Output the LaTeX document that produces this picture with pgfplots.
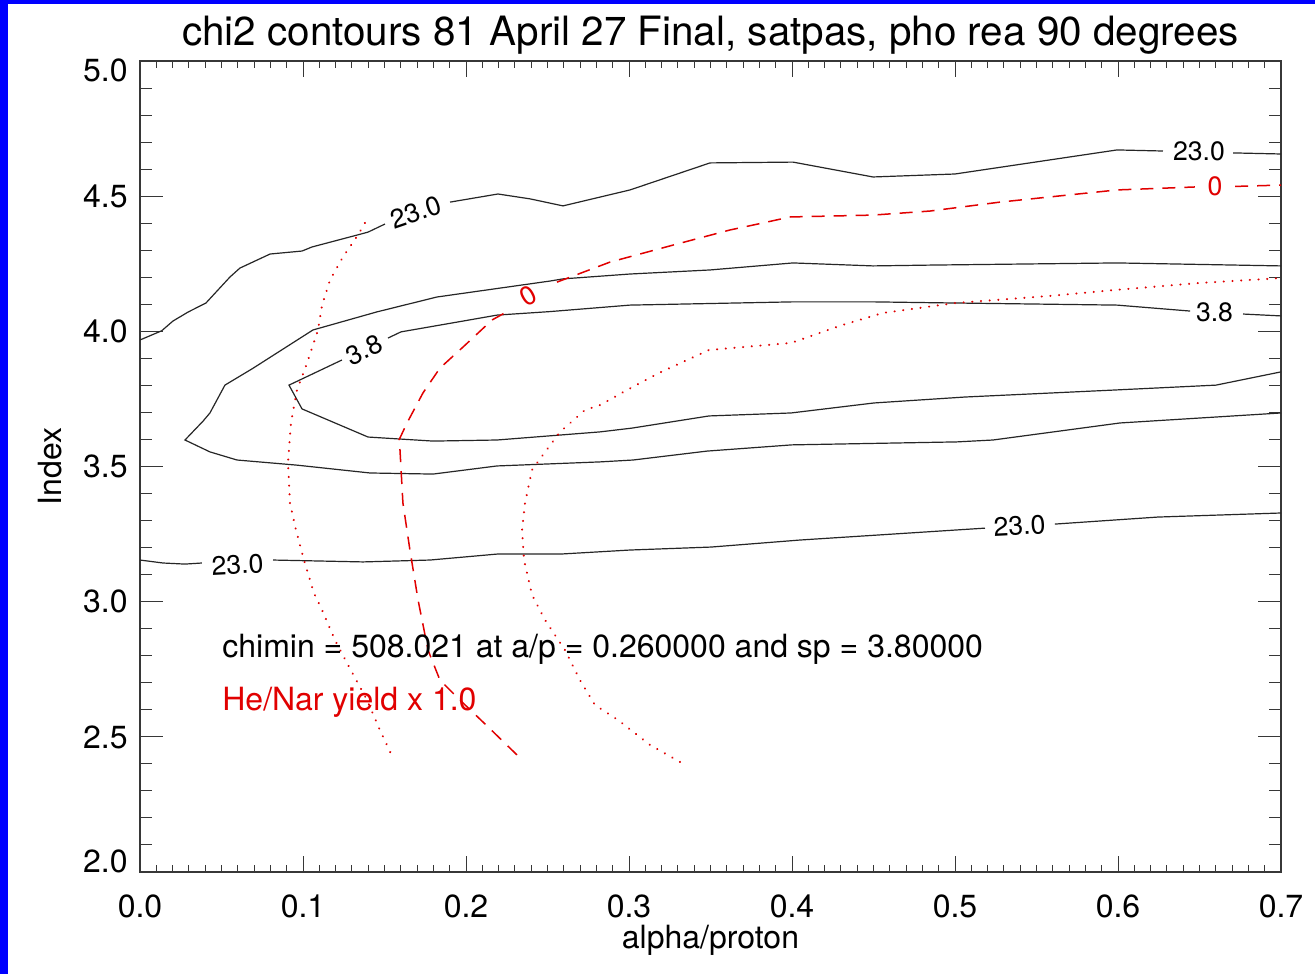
\documentclass[border=0pt]{standalone}
\usepackage{pgfplots}
\pgfplotsset{compat=1.18}
\usepackage{fontspec}
\setmainfont{TeX Gyre Heros}
\definecolor{idlred}{RGB}{225,0,0}
\definecolor{idlblue}{RGB}{0,0,255}
\definecolor{axgray}{RGB}{55,55,55}
\tikzset{clab/.style={font=\fontsize{13.3}{16}\selectfont, inner sep=0pt}}
\newcommand{\ylab}[1]{\raisebox{#1}[0pt][0pt]{\pgfmathprintnumber[fixed,fixed zerofill,precision=1]{\tick}}}
\begin{document}
\begin{tikzpicture}[x=1pt,y=1pt]
\fill[idlblue] (0,0) rectangle (657.5,487);
\fill[white] (4,0) rectangle (657.5,485);
\pgfplotsset{
  common/.style={
    scale only axis, width=570.5pt, height=405.5pt,
    at={(70pt,51pt)}, anchor=south west,
    xmin=0, xmax=0.7, ymin=2, ymax=5,
    clip mode=individual,
    axis line style={draw=axgray, line width=0.75pt},
    every tick/.style={draw=axgray, line width=0.5pt},
    tick label style={font=\fontsize{16}{19}\selectfont},
    /pgf/number format/assume math mode=true,
    /pgf/number format/fixed, /pgf/number format/fixed zerofill,
    /pgf/number format/precision=1,
    tick align=inside,
  },
  cont/.style={draw=black!85, line width=0.6pt, mark=none},
  rdash/.style={draw=idlred, line width=0.75pt, mark=none, dash pattern=on 6.5pt off 4.5pt},
  rdot/.style={draw=idlred, line width=1.1pt, mark=none, line cap=round, dash pattern=on 0.05pt off 4.3pt},
}
% axis with y ticks only
\begin{axis}[common,
  xtick=\empty, minor x tick num=0,
  ytick={2,2.5,3,3.5,4,4.5,5}, minor y tick num=4,
  major tick length=11.5pt, minor tick length=6pt,
  yticklabel style={inner sep=0pt, xshift=-6pt},
  yticklabel={\ifcase\ticknum \ylab{0pt}\or\ylab{-5.6pt}\or\ylab{-5.6pt}\or\ylab{-5.6pt}\or\ylab{-5.6pt}\or\ylab{-5.6pt}\else\ylab{-10.5pt}\fi},
]
\end{axis}
% main axis with x ticks and data
\begin{axis}[common,
  ytick=\empty, minor y tick num=0,
  xtick={0,0.1,0.2,0.3,0.4,0.5,0.6,0.7}, minor x tick num=9,
  major tick length=8pt, minor tick length=3.5pt,
  xticklabel style={inner sep=0pt, yshift=-11pt},
]
% outer 23.0 contour, top branch
\addplot[cont] coordinates {(0.0,3.968) (0.0133,4.002) (0.0202,4.038) (0.0294,4.071) (0.0405,4.105) (0.0552,4.201) (0.0613,4.234) (0.0798,4.286) (0.0994,4.297) (0.1055,4.312) (0.1331,4.356) (0.1399,4.367) (0.1503,4.397)};
\addplot[cont] coordinates {(0.1902,4.478) (0.2196,4.508) (0.2393,4.490) (0.2595,4.464) (0.3006,4.523) (0.3497,4.623) (0.4006,4.626) (0.4497,4.571) (0.5,4.582) (0.5994,4.671) (0.6276,4.667)};
\addplot[cont] coordinates {(0.6706,4.660) (0.7,4.656)};
% outer 23.0 contour, bottom branch
\addplot[cont] coordinates {(0,3.154) (0.0141,3.143) (0.0276,3.139) (0.0380,3.143)};
\addplot[cont] coordinates {(0.0816,3.154) (0.1368,3.147) (0.1779,3.154) (0.2190,3.176) (0.2577,3.176) (0.3006,3.191) (0.3503,3.202) (0.4049,3.228) (0.4540,3.247) (0.5184,3.272)};
\addplot[cont] coordinates {(0.5613,3.287) (0.6245,3.313) (0.7,3.328)};
% middle (unlabelled) contour
\addplot[cont] coordinates {(0.7,4.242) (0.5994,4.253) (0.4847,4.245) (0.4497,4.242) (0.4006,4.253) (0.3497,4.227) (0.3006,4.212) (0.2595,4.194) (0.2515,4.186) (0.1822,4.127) (0.1454,4.072) (0.1061,4.005) (0.0687,3.861) (0.0521,3.801) (0.0429,3.698) (0.0387,3.668) (0.0276,3.598) (0.0429,3.554) (0.0595,3.524) (0.0963,3.505) (0.1411,3.476) (0.1798,3.472) (0.2190,3.502) (0.2822,3.517) (0.3025,3.524) (0.3479,3.557) (0.4,3.580) (0.5012,3.591) (0.5233,3.598) (0.6012,3.661) (0.7,3.698)};
% 3.8 contour
\addplot[cont] coordinates {(0.7,4.057) (0.6767,4.064)};
\addplot[cont] coordinates {(0.6442,4.075) (0.5994,4.097) (0.4847,4.106) (0.4497,4.109) (0.4006,4.109) (0.3006,4.097) (0.2515,4.073) (0.2190,4.060) (0.1982,4.038) (0.1601,3.998) (0.1521,3.975)};
\addplot[cont] coordinates {(0.1239,3.894) (0.0914,3.801) (0.0994,3.713) (0.1399,3.609) (0.1798,3.594) (0.2190,3.598) (0.2822,3.628) (0.3018,3.642) (0.3491,3.687) (0.3994,3.698) (0.4503,3.735) (0.5061,3.757) (0.5982,3.783) (0.6601,3.801) (0.7,3.850)};
% red dashed 0 contour
\addplot[rdash] coordinates {(0.2313,2.433) (0.2123,2.544) (0.1963,2.636) (0.1840,2.710) (0.1767,2.821) (0.1706,3.006) (0.1656,3.191) (0.1613,3.365) (0.1595,3.561) (0.1589,3.598) (0.1638,3.661) (0.1736,3.772) (0.1840,3.864) (0.1982,3.942) (0.2160,4.042) (0.2270,4.079)};
\addplot[rdash] coordinates {(0.2558,4.182) (0.2883,4.256) (0.3270,4.319) (0.3620,4.375) (0.3822,4.401) (0.3988,4.423) (0.4497,4.430) (0.4847,4.445) (0.5276,4.478) (0.5994,4.523) (0.6472,4.534)};
\addplot[rdash] coordinates {(0.6718,4.536) (0.7,4.541)};
% red dotted contours
\addplot[rdot] coordinates {(0.1380,4.401) (0.1337,4.356) (0.1245,4.275) (0.1166,4.190) (0.1117,4.097) (0.1092,4.005) (0.1025,3.883) (0.0963,3.783) (0.0926,3.661) (0.0908,3.513) (0.0920,3.365) (0.0957,3.265) (0.1006,3.154) (0.1067,3.032) (0.1117,2.969) (0.1196,2.858) (0.1276,2.766) (0.1393,2.636) (0.1472,2.525) (0.1552,2.422)};
\addplot[rdot] coordinates {(0.3313,2.407) (0.3129,2.470) (0.2933,2.562) (0.2791,2.618) (0.2699,2.710) (0.2607,2.821) (0.2485,2.932) (0.2405,3.025) (0.2356,3.154) (0.2344,3.265) (0.2362,3.365) (0.2405,3.487) (0.2472,3.543) (0.2577,3.628) (0.2730,3.709) (0.2822,3.727) (0.2988,3.783) (0.3184,3.846) (0.3491,3.931) (0.3994,3.957) (0.4307,4.023) (0.4558,4.068) (0.5006,4.105) (0.5583,4.131) (0.5982,4.153) (0.6503,4.179) (0.7,4.197)};
% contour labels
\node[clab, rotate=19] at (axis cs:0.1693,4.440) {23.0};
\node[clab] at (axis cs:0.6497,4.667) {23.0};
\node[clab, text=idlred] at (axis cs:0.6595,4.538) {0};
\node[clab, text=idlred, rotate=30] at (axis cs:0.2383,4.133) {0};
\node[clab, rotate=25] at (axis cs:0.1374,3.931) {3.8};
\node[clab] at (axis cs:0.6592,4.070) {3.8};
\node[clab, rotate=3] at (axis cs:0.0598,3.137) {23.0};
\node[clab, rotate=3] at (axis cs:0.5396,3.280) {23.0};
% annotations
\node[anchor=base west, inner sep=0pt, font=\fontsize{16}{19}\selectfont] at (axis cs:0.0503,2.792) {chimin = 508.021 at a/p = 0.260000 and sp = 3.80000};
\node[anchor=base west, inner sep=0pt, text=idlred, font=\fontsize{16}{19}\selectfont] at (axis cs:0.0503,2.596) {He/Nar yield x 1.0};
% title and axis labels
\path (rel axis cs:0.5,1) ++(0pt,7.5pt) node[anchor=base, inner sep=0pt, font=\fontsize{20.2}{24}\selectfont] {chi2 contours 81 April 27 Final, satpas, pho rea 90 degrees};
\path (rel axis cs:0.5,0) ++(0pt,-38pt) node[anchor=base, inner sep=0pt, font=\fontsize{16}{19}\selectfont] {alpha/proton};
\path (rel axis cs:0,0.5) ++(-39.5pt,0pt) node[anchor=base, rotate=90, inner sep=0pt, font=\fontsize{16}{19}\selectfont] {Index};
\end{axis}
\pgfresetboundingbox
\path[use as bounding box] (0,0) rectangle (657.5,487);
\end{tikzpicture}
\end{document}
